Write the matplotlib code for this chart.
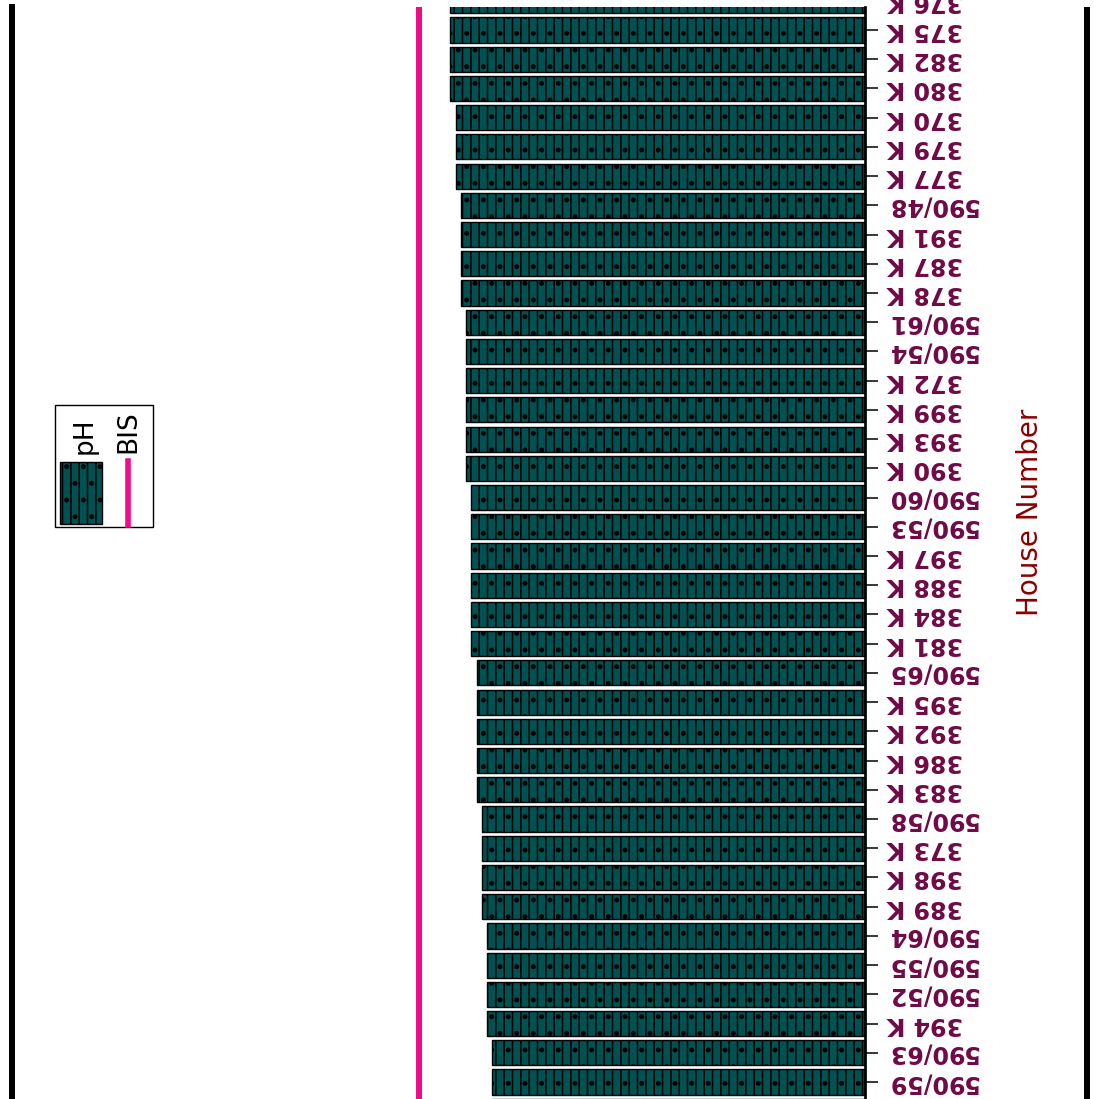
import numpy as np
import matplotlib.pyplot as plt
import matplotlib.transforms as mtransforms
from matplotlib.patches import Rectangle
from matplotlib.lines import Line2D

plt.rcParams['hatch.linewidth'] = 1.1
plt.rcParams['hatch.color'] = 'black'

# house numbers, top to bottom (first and last rows are cut by the frame)
houses = ['376 K', '375 K', '382 K', '380 K', '370 K', '379 K', '377 K', '590/48',
          '391 K', '387 K', '378 K', '590/61', '590/54', '372 K', '399 K', '393 K',
          '390 K', '590/60', '590/53', '397 K', '388 K', '384 K', '381 K', '590/65',
          '395 K', '392 K', '386 K', '383 K', '590/58', '373 K', '398 K', '389 K',
          '590/64', '590/55', '590/52', '394 K', '590/63', '590/59', '590/57']
ph = [7.9, 7.9, 7.9, 7.9, 7.8, 7.8, 7.8, 7.7,
      7.7, 7.7, 7.7, 7.6, 7.6, 7.6, 7.6, 7.6,
      7.6, 7.5, 7.5, 7.5, 7.5, 7.5, 7.5, 7.4,
      7.4, 7.4, 7.4, 7.4, 7.3, 7.3, 7.3, 7.3,
      7.2, 7.2, 7.2, 7.2, 7.1, 7.1, 7.1]
bis = 8.5

W, H = 1094, 1099
bar_col = '#005252'
bis_col = '#f00a8c'
lab_col = '#6e0a46'
pattern = '||.'
lab_font = dict(color=lab_col, fontsize=17, fontweight='bold', family='DejaVu Sans')
tick_len, tick_pad = 9, 7

fig = plt.figure(figsize=(W / 100, H / 100), dpi=100)
ax = fig.add_axes([12 / W, 0, 1075 / W, (H - 7) / H])

y = np.arange(len(houses))
ax.barh(y, ph, height=0.86, color=bar_col, edgecolor='black', linewidth=1.0, hatch=pattern)
ax.axvline(bis, color=bis_col, linewidth=4.3)

# frame
ax.spines['top'].set_visible(False)
ax.spines['bottom'].set_visible(False)
ax.spines['left'].set_linewidth(4.3)
ax.spines['right'].set_position(('data', 0))
ax.spines['right'].set_linewidth(1.9)
ax.plot([1, 1], [0, 1], transform=ax.transAxes, color='black', lw=4.3, clip_on=False,
        solid_capstyle='butt')

ax.set_xticks([])
ax.yaxis.set_ticks_position('right')
ax.set_yticks(y)
ax.set_yticklabels(houses, rotation=180, va='center', ha='left', **lab_font)
ax.tick_params(axis='y', length=tick_len, width=1.1, pad=tick_pad)

# limits after the ticks, so set_yticks does not widen them
ax.set_xlim(16.25, -4.23)
ax.set_ylim(37.58, 0.212)

# first and last labels sit just outside the frame; the figure edge cuts them
shift = mtransforms.ScaledTranslation((tick_len + tick_pad) / 72, 0, fig.dpi_scale_trans)
for i in (0, len(houses) - 1):
    ax.text(0, y[i], houses[i], transform=ax.transData + shift, rotation=180,
            va='center', ha='left', clip_on=False, **lab_font)

fig.text(1030 / W, 1 - 512 / H, 'House Number', rotation=90, color='#8b0000',
         fontsize=20, ha='center', va='center',
         family=['Liberation Sans Narrow', 'DejaVu Sans'])

# legend drawn by hand (rotated)
def fx(px):
    return px / W

def fy(py):
    return 1 - py / H

fig.patches.append(Rectangle((fx(55), fy(527)), 98 / W, 122 / H, transform=fig.transFigure,
                             facecolor='white', edgecolor='black', linewidth=1.0))
fig.patches.append(Rectangle((fx(60), fy(524)), 42 / W, 62 / H, transform=fig.transFigure,
                             facecolor=bar_col, edgecolor='black', linewidth=1.0, hatch=pattern))
fig.add_artist(Line2D([fx(128), fx(128)], [fy(525), fy(461)], transform=fig.transFigure,
                      color=bis_col, linewidth=4.0))
fig.text(fx(85), fy(436), 'pH', rotation=90, fontsize=19, ha='center', va='center')
fig.text(fx(128), fy(432), 'BIS', rotation=90, fontsize=19, ha='center', va='center')

fig.savefig('out.png', dpi=100)
